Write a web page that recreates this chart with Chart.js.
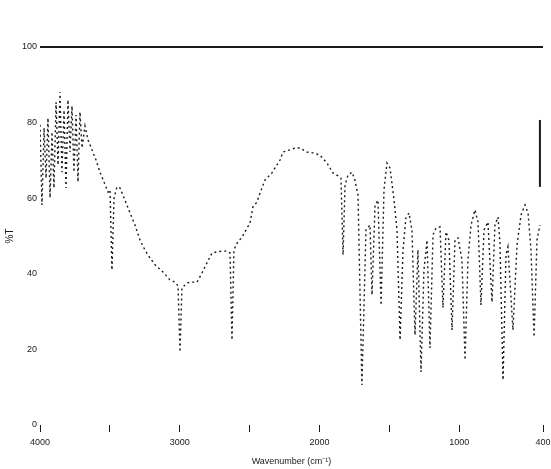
<!DOCTYPE html>
<html>
<head>
<meta charset="utf-8">
<script src="https://cdn.jsdelivr.net/npm/chart.js@4.4.1/dist/chart.umd.min.js"></script>
<style>
  html, body { margin: 0; padding: 0; background: #ffffff; }
  #wrap { width: 551px; height: 469px; }
</style>
</head>
<body>
<div id="wrap"><canvas id="ir"></canvas></div>
<script>
// IR spectrum: wavenumber (cm-1) vs transmittance (%)
const wavenumber = [
  4000, 3986, 3971, 3957, 3943, 3928, 3914, 3900, 3885, 3871, 3857, 3843, 3828, 3814, 3800,
  3785, 3771, 3757, 3742, 3728, 3714, 3699, 3678, 3656, 3628, 3599, 3571, 3542, 3513, 3499,
  3485, 3470, 3449, 3427, 3392, 3356, 3320, 3284, 3249, 3213, 3170, 3120, 3070, 3034, 3012,
  2998, 2984, 2948, 2912, 2876, 2841, 2805, 2769, 2733, 2697, 2662, 2640, 2626, 2612, 2590,
  2554, 2518, 2497, 2476, 2447, 2425, 2390, 2340, 2282, 2261, 2211, 2175, 2139, 2089, 2046,
  1996, 1946, 1903, 1867, 1846, 1831, 1817, 1796, 1767, 1746, 1724, 1696, 1667, 1638, 1624,
  1602, 1581, 1559, 1538, 1517, 1495, 1466, 1445, 1423, 1402, 1381, 1359, 1338, 1316, 1295,
  1273, 1252, 1230, 1209, 1187, 1166, 1137, 1116, 1094, 1073, 1051, 1030, 1008, 980, 958,
  937, 915, 887, 865, 844, 822, 794, 765, 744, 722, 708, 686, 665, 651, 615,
  586, 557, 529, 507, 486, 464, 443, 422
];
const transmittance = [
  79.4, 58.2, 78.6, 65.3, 81.2, 60.1, 77.5, 62.7, 85.4, 68.8, 88.1, 66.9, 83.3, 62.7, 86.0,
  72.2, 84.4, 66.9, 82.0, 64.3, 82.8, 73.3, 79.1, 75.4, 72.8, 70.1, 66.9, 64.3, 61.6, 62.2,
  41.0, 60.1, 63.0, 62.7, 59.5, 56.1, 52.9, 48.9, 46.3, 44.2, 42.1, 40.5, 38.4, 37.8, 36.8,
  19.3, 36.2, 37.6, 37.8, 37.8, 40.2, 42.9, 45.5, 45.8, 46.0, 46.0, 45.5, 22.5, 46.3, 48.1,
  49.7, 52.1, 53.4, 57.7, 59.0, 61.4, 64.8, 66.7, 70.1, 72.2, 72.8, 73.3, 73.3, 72.2, 72.0,
  71.4, 69.3, 66.7, 65.9, 65.3, 45.0, 63.5, 66.1, 66.9, 64.8, 60.8, 10.6, 51.6, 52.9, 34.4,
  58.2, 59.5, 31.7, 62.2, 69.3, 68.0, 59.5, 51.6, 22.5, 46.3, 54.8, 56.1, 51.6, 23.8, 46.3,
  14.0, 41.0, 48.9, 20.4, 50.3, 52.1, 52.4, 31.0, 51.1, 48.9, 25.1, 48.9, 49.5, 43.7, 17.2,
  43.7, 52.9, 56.9, 53.7, 31.7, 51.6, 53.7, 32.5, 52.9, 55.0, 48.1, 11.9, 45.0, 47.1, 25.1,
  47.6, 55.6, 58.2, 56.1, 46.3, 23.3, 48.9, 52.9
];

// 100 % reference line and the short marker bar at the low-wavenumber end
const referenceWavenumber = [4000, 400];
const referenceLevel = [100, 100];
const markerWavenumber = [422, 422];
const markerLevel = [63.0, 80.7];

// axis ticks
const xTickValues = [4000, 3500, 3000, 2500, 2000, 1500, 1000, 400];
const xTickLabels = { 4000: '4000', 3000: '3000', 2000: '2000', 1000: '1000', 400: '400' };
const yTickValues = [0, 20, 40, 60, 80, 100];

const pairs = (xs, ys) => xs.map((x, i) => ({ x: x, y: ys[i] }));

const ink = '#1a1a1a';
const font = { family: 'Liberation Sans, Arial, sans-serif', size: 9 };

new Chart(document.getElementById('ir'), {
  type: 'scatter',
  data: {
    datasets: [
      {
        label: 'Spectrum',
        data: pairs(wavenumber, transmittance),
        showLine: true,
        borderColor: ink,
        borderWidth: 1.4,
        borderDash: [2, 3],
        pointRadius: 0,
        tension: 0
      },
      {
        label: '100 %',
        data: pairs(referenceWavenumber, referenceLevel),
        showLine: true,
        borderColor: ink,
        borderWidth: 2,
        pointRadius: 0,
        clip: 4
      },
      {
        label: 'Marker',
        data: pairs(markerWavenumber, markerLevel),
        showLine: true,
        borderColor: ink,
        borderWidth: 2,
        pointRadius: 0
      }
    ]
  },
  options: {
    responsive: true,
    maintainAspectRatio: false,
    animation: false,
    layout: { padding: { top: 47, right: 8, left: 0, bottom: 0 } },
    plugins: { legend: { display: false }, tooltip: { enabled: false } },
    scales: {
      x: {
        type: 'linear',
        reverse: true,
        min: 400,
        max: 4000,
        border: { display: false },
        grid: { drawOnChartArea: false, drawTicks: true, tickLength: 7, color: ink, lineWidth: 1 },
        afterBuildTicks: (scale) => { scale.ticks = xTickValues.map(v => ({ value: v })); },
        afterFit: (scale) => {
          scale.height = 44;
          scale.paddingLeft = 0;
          scale.paddingRight = 0;
        },
        ticks: {
          color: ink,
          font: font,
          padding: 5,
          maxRotation: 0,
          autoSkip: false,
          callback: (v) => xTickLabels[v] || ''
        },
        title: {
          display: true,
          text: 'Wavenumber (cm⁻¹)',
          color: ink,
          font: font,
          padding: { top: 2, bottom: 2 }
        }
      },
      y: {
        min: 0,
        max: 100,
        border: { display: false },
        grid: { display: false, drawTicks: false },
        afterBuildTicks: (scale) => { scale.ticks = yTickValues.map(v => ({ value: v })); },
        afterFit: (scale) => {
          scale.width = 40;
          scale.paddingTop = 0;
          scale.paddingBottom = 0;
        },
        ticks: { color: ink, font: font, padding: 3 },
        title: {
          display: true,
          text: '%T',
          color: ink,
          font: { family: font.family, size: 10 },
          padding: { top: 4, bottom: 2 }
        }
      }
    }
  }
});
</script>
</body>
</html>
